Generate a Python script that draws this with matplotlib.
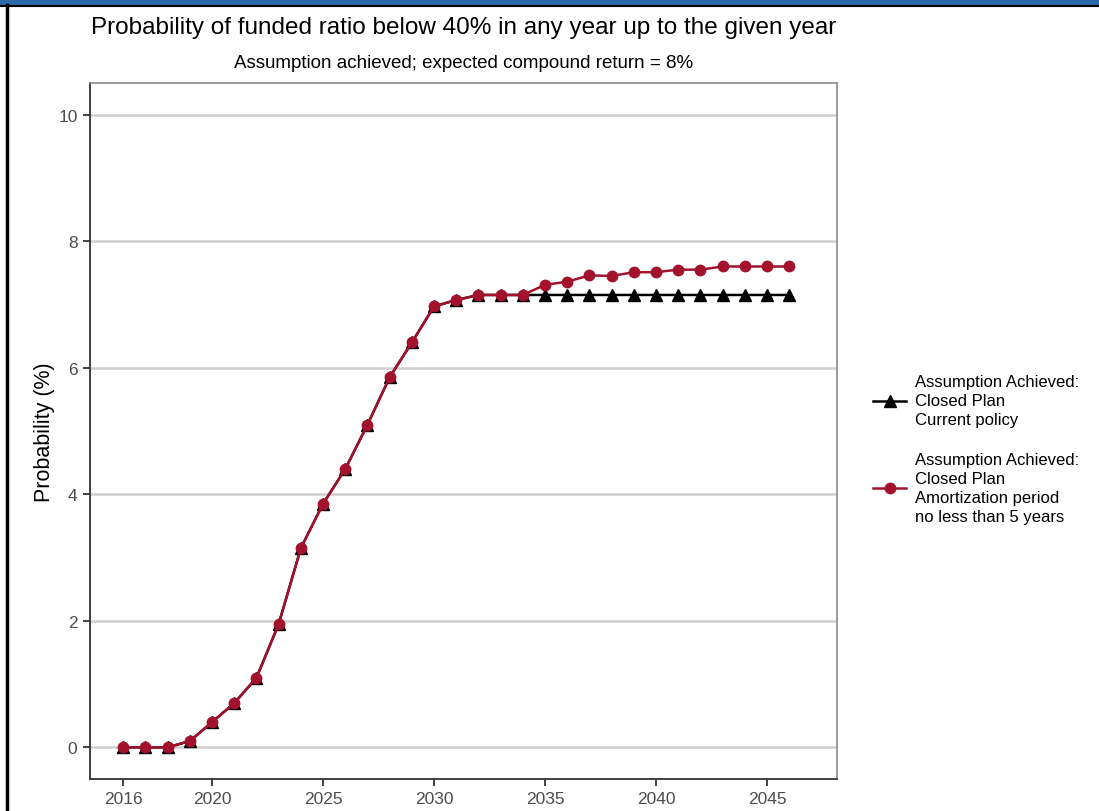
import matplotlib
matplotlib.use("Agg")
import matplotlib.pyplot as plt
from matplotlib.lines import Line2D
from matplotlib.patches import Rectangle

plt.rcParams['font.family'] = ['Liberation Sans', 'DejaVu Sans']

years = list(range(2016, 2047))
current_policy = [0.0, 0.0, 0.0, 0.1, 0.4, 0.7, 1.1, 1.95, 3.15, 3.85, 4.4, 5.1,
                  5.85, 6.4, 6.97, 7.07, 7.15, 7.15, 7.15, 7.15, 7.15, 7.15, 7.15,
                  7.15, 7.15, 7.15, 7.15, 7.15, 7.15, 7.15, 7.15]
amort_5yr = [0.0, 0.0, 0.0, 0.1, 0.4, 0.7, 1.1, 1.95, 3.15, 3.85, 4.4, 5.1,
             5.85, 6.4, 6.97, 7.07, 7.15, 7.15, 7.15, 7.31, 7.36, 7.46, 7.45,
             7.51, 7.51, 7.55, 7.55, 7.6, 7.6, 7.6, 7.6]
series_labels = ["Assumption Achieved:\nClosed Plan\nCurrent policy",
                 "Assumption Achieved:\nClosed Plan\nAmortization period\nno less than 5 years"]
x_ticks = [2016, 2020, 2025, 2030, 2035, 2040, 2045]
y_ticks = [0, 2, 4, 6, 8, 10]
title = "Probability of funded ratio below 40% in any year up to the given year"
subtitle = "Assumption achieved; expected compound return = 8%"
ylabel = "Probability (%)"

W, H = 1099, 812
fig = plt.figure(figsize=(W / 100, H / 100), dpi=100)
fig.patch.set_facecolor('white')

# top banner and left frame line
fig.add_artist(Rectangle((0, 1 - 6 / H), 1, 6 / H, transform=fig.transFigure,
                         facecolor='#2b6aa6', edgecolor='none'))
fig.add_artist(Line2D([0, 1], [1 - 6.5 / H, 1 - 6.5 / H], transform=fig.transFigure,
                      color='black', lw=1.5))
fig.add_artist(Line2D([6.5 / W, 6.5 / W], [0, 1 - 6 / H], transform=fig.transFigure,
                      color='black', lw=2.5))

left, right, top, bottom = 90, 837, 84, 780
ax = fig.add_axes([left / W, 1 - bottom / H, (right - left) / W, (bottom - top) / H])

red = '#a3122d'
ax.plot(years, current_policy, color='black', lw=1.8, marker='^', ms=8.5, zorder=3)
ax.plot(years, amort_5yr, color=red, lw=1.8, marker='o', ms=7.5, zorder=4)

ax.set_xlim(2014.5, 2048.15)
ax.set_ylim(-0.5, 10.5)
ax.set_xticks(x_ticks)
ax.set_yticks(y_ticks)
ax.yaxis.grid(True, color='#cfcfcf', lw=1.8)
ax.xaxis.grid(False)
ax.set_axisbelow(True)
ax.tick_params(axis='both', colors='#333333', labelcolor='#4d4d4d', labelsize=12.5,
               length=5, width=1.3, direction='out', pad=4)
for s in ['left', 'bottom']:
    ax.spines[s].set_color('#333333')
    ax.spines[s].set_linewidth(1.3)
for s in ['top', 'right']:
    ax.spines[s].set_color('#8a8a8a')
    ax.spines[s].set_linewidth(1.2)

ax.set_ylabel(ylabel, fontsize=15.5, color='black', labelpad=2)

fig.text((left + right) / 2 / W, 1 - 28 / H, title, ha='center', va='center',
         fontsize=17.5, color='black')
fig.text((left + right) / 2 / W, 1 - 63 / H, subtitle, ha='center', va='center',
         fontsize=13.5, color='black')

# legend
handles = [Line2D([], [], color='black', lw=1.8, marker='^', ms=8.5),
           Line2D([], [], color=red, lw=1.8, marker='o', ms=7.5)]
leg = fig.legend(handles, series_labels, loc='center left',
                 bbox_to_anchor=(873 / W, 1 - 450 / H), frameon=False,
                 fontsize=12, handlelength=2.0, handletextpad=0.5,
                 labelspacing=1.5, borderpad=0, borderaxespad=0)
for t in leg.get_texts():
    t.set_linespacing(1.32)

fig.savefig('out.png', dpi=100, facecolor='white')
